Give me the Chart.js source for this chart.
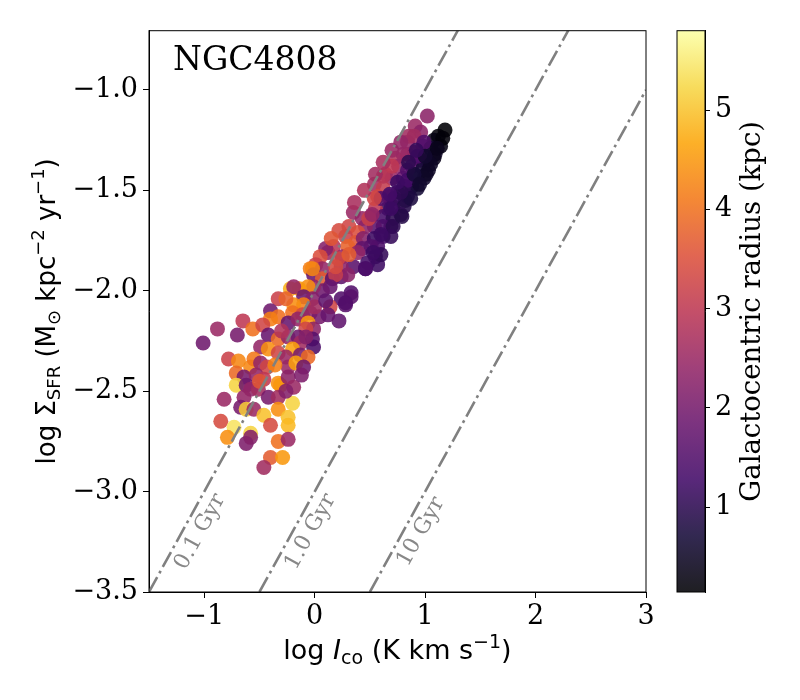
<!DOCTYPE html>
<html lang="en">
<head>
<meta charset="UTF-8">
<title>NGC4808 SFR vs CO</title>
<style>
  body { margin: 0; background: #fff; }
  #wrap { position: relative; width: 800px; height: 700px; }
  #main { position: absolute; left: 0; top: 0; }
  #cbar { position: absolute; left: 646px; top: 0; }
</style>
<script src="https://cdn.jsdelivr.net/npm/chart.js"></script>
</head>
<body>
<div id="wrap">
  <canvas id="main" width="660" height="700"></canvas>
  <canvas id="cbar" width="154" height="700"></canvas>
</div>
<script>
// log I_co (K km/s), log Sigma_SFR, galactocentric radius (kpc) per pixel
const logIco = [
  1.02, 1.18, 1.12, 1.08, 0.91, 0.96, 0.90, 0.98, 1.05, 1.09, 1.02, 0.96, 0.84, 0.73, 0.76, 0.88,
  0.98, 1.03, 0.93, 0.99, 0.64, 0.70, 0.80, 0.88, 0.93, 0.54, 0.62, 0.57, 0.67, 0.75, 0.84, 0.82,
  0.71, 0.66, 0.55, 0.51, 0.35, 0.43, 0.62, 0.71, 0.69, 0.62, 0.54, 0.46, 0.31, 0.39, 0.28, 0.37,
  0.30, 0.44, 0.54, 0.62, 0.57, 0.51, 0.43, 0.39, 0.55, 0.48, 0.57, 0.46, 0.35, 0.24, 0.12, 0.17,
  0.10, 0.25, 0.21, 0.05, 0.01, -0.04, 0.07, -0.01, 0.07, 0.16, 0.24, 0.30, 0.19, 0.33, 0.24, 0.28,
  0.14, 0.22, 0.14, 0.07, -0.01, -0.06, -0.14, -0.22, -0.19, -0.10, -0.02, -0.10, -0.19, -0.33, -0.26, -0.20,
  -0.11, -0.04, 0.04, 0.12, -0.40, -0.33, -0.40, -0.24, -0.15, -0.06, -0.01, -0.08, -0.65, -0.56, -0.47, -0.88,
  -0.70, -1.01, -0.42, -0.33, -0.24, -0.15, -0.13, -0.02, -0.01, -0.20, -0.49, -0.42, -0.33, -0.26, -0.13, -0.06,
  -0.78, -0.69, -0.71, -0.58, -0.55, -0.49, -0.43, -0.24, -0.17, -0.10, -0.64, -0.53, -0.46, -0.33, -0.31, -0.24,
  -0.19, -0.71, -0.62, -0.58, -0.51, -0.82, -0.64, -0.42, -0.33, -0.20, -0.67, -0.62, -0.55, -0.46, -0.33, -0.24,
  -0.40, -0.24, -0.85, -0.73, -0.79, -0.58, -0.62, -0.58, -0.33, -0.24, -0.40, -0.29, -0.46, 1.08, 1.05, 1.14,
  1.16, 1.01, 0.84, 0.81, 0.72, 0.81, 0.78, 0.60, 0.90, 0.84, 0.60, 0.46, 0.33, 0.28, 0.53, 0.71,
  0.69, 0.79, 0.60, 0.31, 0.19, 0.49, 0.52, -0.02, 0.54, 0.62, 0.70, 0.80, 0.85, 0.99, 0.93, 0.84,
  1.11, 0.87, 0.78, 0.69, 0.22, 0.15, 0.36, 0.45, 0.55, 0.62, 0.70, 0.78, 0.75, 0.68, 0.90, 0.95,
  0.85, 1.00, 0.92, 0.00, -0.08, -0.30, -0.50, -0.36, 0.10, -0.26, -0.12
];
const logSfr = [
  -1.13, -1.20, -1.23, -1.25, -1.18, -1.21, -1.23, -1.28, -1.29, -1.32, -1.35, -1.35, -1.32, -1.34, -1.38, -1.38,
  -1.39, -1.40, -1.43, -1.44, -1.42, -1.44, -1.44, -1.48, -1.49, -1.47, -1.49, -1.53, -1.53, -1.51, -1.53, -1.55,
  -1.58, -1.59, -1.59, -1.63, -1.61, -1.64, -1.63, -1.64, -1.68, -1.68, -1.68, -1.68, -1.68, -1.71, -1.73, -1.76,
  -1.78, -1.74, -1.74, -1.73, -1.78, -1.78, -1.79, -1.81, -1.83, -1.86, -1.87, -1.89, -1.88, -1.88, -1.81, -1.78,
  -1.79, -1.83, -1.84, -1.83, -1.87, -1.89, -1.89, -1.92, -1.94, -1.94, -1.93, -1.92, -1.92, -2.01, -2.04, -2.07,
  -2.08, -2.15, -1.98, -2.00, -1.98, -1.98, -1.99, -1.99, -1.98, -2.03, -2.04, -2.07, -2.07, -2.04, -2.04, -2.11,
  -2.12, -2.11, -2.13, -2.12, -2.10, -2.13, -2.14, -2.16, -2.14, -2.16, -2.19, -2.19, -2.15, -2.19, -2.17, -2.19,
  -2.22, -2.26, -2.22, -2.24, -2.23, -2.23, -2.26, -2.24, -2.28, -2.29, -2.28, -2.29, -2.31, -2.33, -2.32, -2.33,
  -2.34, -2.35, -2.41, -2.38, -2.34, -2.36, -2.38, -2.38, -2.36, -2.38, -2.43, -2.42, -2.44, -2.46, -2.47, -2.43,
  -2.48, -2.47, -2.47, -2.49, -2.49, -2.54, -2.53, -2.53, -2.53, -2.56, -2.58, -2.59, -2.59, -2.62, -2.59, -2.63,
  -2.67, -2.67, -2.65, -2.68, -2.73, -2.71, -2.76, -2.73, -2.75, -2.74, -2.83, -2.83, -2.88, -1.34, -1.37, -1.28,
  -1.24, -1.42, -1.40, -1.48, -1.54, -1.58, -1.62, -1.54, -1.31, -1.26, -1.82, -1.89, -2.03, -2.06, -1.81, -1.68,
  -1.73, -1.63, -1.72, -1.82, -1.88, -1.64, -1.62, -1.89, -1.54, -1.43, -1.38, -1.32, -1.23, -1.26, -1.33, -1.45,
  -1.29, -1.54, -1.51, -1.59, -1.70, -1.74, -1.56, -1.50, -1.42, -1.36, -1.30, -1.26, -1.46, -1.52, -1.42, -1.47,
  -1.36, -1.33, -1.30, -2.08, -2.23, -2.20, -2.45, -2.37, -2.05, -2.50, -2.42
];
const radius = [
  2.3, 0.15, 0.2, 0.3, 2.5, 2.3, 2.6, 1.8, 0.6, 0.5, 0.8, 1.5, 2.4, 2.8, 2.5, 1.6,
  0.7, 0.5, 0.8, 0.6, 3.0, 2.5, 1.8, 0.9, 0.7, 2.6, 3.1, 3.3, 2.3, 1.5, 0.9, 0.8,
  1.4, 1.1, 3.0, 2.6, 2.5, 2.4, 1.3, 1.0, 1.1, 1.4, 1.6, 2.3, 3.3, 3.5, 3.2, 3.6,
  3.8, 2.2, 1.2, 1.3, 1.4, 1.5, 1.7, 2.4, 1.1, 1.3, 1.2, 1.3, 1.6, 2.3, 2.5, 2.9,
  2.2, 2.4, 3.3, 3.5, 3.2, 4.2, 2.4, 1.8, 3.7, 1.6, 1.7, 2.3, 3.1, 1.5, 1.5, 1.6,
  3.3, 1.7, 1.8, 1.9, 2.4, 4.4, 4.5, 4.8, 2.4, 1.8, 2.2, 4.2, 4.4, 3.2, 3.8, 4.0,
  3.4, 2.3, 2.0, 1.8, 1.9, 4.0, 4.2, 1.8, 2.4, 4.5, 2.3, 3.3, 3.0, 4.0, 3.3, 2.5,
  2.0, 1.9, 1.8, 3.9, 2.4, 1.9, 2.6, 1.6, 1.4, 4.6, 2.4, 4.4, 3.3, 2.5, 2.0, 3.9,
  3.2, 4.3, 3.9, 4.3, 4.1, 2.4, 3.3, 2.5, 4.6, 1.9, 2.0, 2.4, 3.0, 4.4, 4.5, 2.3,
  2.5, 5.2, 1.9, 2.4, 2.6, 2.5, 2.4, 2.0, 2.6, 5.2, 2.0, 5.1, 2.5, 5.0, 4.4, 5.0,
  3.4, 4.9, 3.4, 5.4, 4.4, 5.2, 2.1, 2.2, 4.0, 2.5, 3.7, 4.5, 2.6, 0.4, 0.5, 0.3,
  0.2, 0.5, 1.5, 1.0, 1.1, 0.9, 1.0, 1.5, 2.2, 2.4, 1.1, 1.4, 1.6, 1.5, 1.2, 1.0,
  1.1, 0.9, 1.2, 3.7, 3.4, 3.2, 2.4, 4.3, 3.3, 2.9, 3.0, 2.5, 2.6, 1.5, 1.4, 1.3,
  0.4, 0.8, 1.0, 1.2, 3.4, 3.6, 2.7, 2.8, 2.6, 2.7, 2.5, 2.4, 1.2, 1.3, 0.7, 0.6,
  1.0, 0.6, 1.1, 2.6, 2.2, 2.8, 3.6, 4.2, 1.7, 2.2, 2.1
];

const xTicks = [-1, 0, 1, 2, 3];
const yTicks = [-1.0, -1.5, -2.0, -2.5, -3.0, -3.5];
const cbTicks = [1, 2, 3, 4, 5];

// constant depletion time lines
const gyrLabels = ['0.1 Gyr', '1.0 Gyr', '10 Gyr'];
const gyrX0 = [-1.5, -0.5, 0.5];
const gyrY0 = [-3.5, -3.5, -3.5];
const gyrX1 = [1.3, 2.3, 3.0];
const gyrY1 = [-0.7, -0.7, -1.0];

const rMin = 0.144, rMax = 5.80;

const infernoStops = [[0,0,4],[22,11,57],[66,10,104],[106,23,110],[147,38,103],[188,55,84],
  [221,81,58],[243,120,25],[252,165,10],[246,215,70],[252,255,164]];
function inferno(t, a) {
  t = Math.min(1, Math.max(0, t)) * 10;
  const i = Math.min(9, Math.floor(t)), f = t - i;
  const c = infernoStops[i].map((v, k) => Math.round(v + (infernoStops[i + 1][k] - v) * f));
  return `rgba(${c[0]},${c[1]},${c[2]},${a})`;
}

const minus = v => (v < 0 ? '\u2212' : '') + Math.abs(v);
const SERIF = 'DejaVu Serif';
const SANS = 'DejaVu Sans';

function drawRich(ctx, parts, x, y, angle) {
  ctx.save();
  ctx.translate(x, y);
  ctx.rotate(angle);
  ctx.textAlign = 'left';
  ctx.textBaseline = 'alphabetic';
  ctx.fillStyle = '#000';
  let w = 0;
  parts.forEach(p => { ctx.font = p.f; p.w = ctx.measureText(p.t).width; w += p.w; });
  let cx = -w / 2;
  parts.forEach(p => { ctx.font = p.f; ctx.fillText(p.t, cx, p.dy || 0); cx += p.w; });
  ctx.restore();
}

const bigY = '26px ' + SANS, smallY = '18px ' + SANS;
const yTitle = [
  { t: 'log \u03a3', f: bigY }, { t: 'SFR', f: smallY, dy: 5 },
  { t: ' (M', f: bigY }, { t: '\u2299', f: smallY, dy: 5 },
  { t: ' kpc', f: bigY }, { t: '\u22122', f: smallY, dy: -11 },
  { t: ' yr', f: bigY }, { t: '\u22121', f: smallY, dy: -11 }, { t: ')', f: bigY }
];
const bigX = '27px ' + SANS, smallX = '19px ' + SANS;
const xTitle = [
  { t: 'log ', f: bigX }, { t: 'I', f: 'italic ' + bigX }, { t: 'co', f: smallX, dy: 5 },
  { t: ' (K km s', f: bigX }, { t: '\u22121', f: smallX, dy: -11 }, { t: ')', f: bigX }
];

const mainDecor = {
  id: 'mainDecor',
  afterDraw(chart) {
    const ctx = chart.ctx, a = chart.chartArea;
    const xs = chart.scales.x, ys = chart.scales.y;
    ctx.save();
    ctx.strokeStyle = '#000';
    ctx.lineWidth = 1;
    ctx.strokeRect(a.left, a.top, a.right - a.left, a.bottom - a.top);

    ctx.fillStyle = '#000';
    ctx.font = '33px ' + SERIF;
    ctx.textAlign = 'left';
    ctx.textBaseline = 'alphabetic';
    ctx.fillText('NGC4808', 173, 70);

    // labels along the depletion lines
    ctx.fillStyle = '#888';
    ctx.font = '22px ' + SERIF;
    ctx.textAlign = 'center';
    ctx.textBaseline = 'middle';
    gyrLabels.forEach((lab, i) => {
      const ya = -3.2;
      const t = (ya - gyrY0[i]) / (gyrY1[i] - gyrY0[i]);
      const xa = gyrX0[i] + t * (gyrX1[i] - gyrX0[i]);
      const ang = Math.atan2(ys.getPixelForValue(gyrY1[i]) - ys.getPixelForValue(gyrY0[i]),
                             xs.getPixelForValue(gyrX1[i]) - xs.getPixelForValue(gyrX0[i]));
      ctx.save();
      ctx.translate(xs.getPixelForValue(xa) + 18, ys.getPixelForValue(ya));
      ctx.rotate(ang);
      ctx.fillText(lab, 0, 0);
      ctx.restore();
    });
    ctx.restore();

    drawRich(ctx, yTitle, 55, (a.top + a.bottom) / 2, -Math.PI / 2);
    drawRich(ctx, xTitle, (a.left + a.right) / 2, 659, 0);
  }
};

const axisStyle = {
  grid: { display: true, drawOnChartArea: false, drawTicks: true, tickLength: 6, color: '#000', lineWidth: 1 },
  border: { display: true, color: '#000', width: 1 }
};

const lineSets = gyrLabels.map((lab, i) => ({
  type: 'line',
  label: lab,
  data: [{ x: gyrX0[i], y: gyrY0[i] }, { x: gyrX1[i], y: gyrY1[i] }],
  borderColor: '#808080',
  borderWidth: 2.6,
  borderDash: [17, 4.4, 2.8, 4.4],
  pointRadius: 0,
  fill: false,
  order: 0
}));

new Chart(document.getElementById('main'), {
  type: 'scatter',
  data: {
    datasets: [
      ...lineSets,
      {
        label: 'pixels',
        data: logIco.map((x, i) => ({ x: x, y: logSfr[i] })),
        pointRadius: 7.5,
        pointBackgroundColor: radius.map(r => inferno((r - rMin) / (rMax - rMin), 0.88)),
        pointBorderWidth: 0,
        pointBorderColor: 'rgba(0,0,0,0)',
        order: 1
      }
    ]
  },
  options: {
    responsive: false,
    animation: false,
    layout: { padding: { top: 30.7, right: 14, left: 0, bottom: 0 } },
    plugins: { legend: { display: false }, tooltip: { enabled: false } },
    scales: {
      x: {
        type: 'linear', min: -1.5, max: 3,
        afterBuildTicks: s => { s.ticks = xTicks.map(v => ({ value: v })); },
        afterFit: s => { s.height = 108; },
        ticks: { font: { family: SERIF, size: 27 }, color: '#000', padding: 3, maxRotation: 0, autoSkip: false,
                 callback: v => minus(v) },
        ...axisStyle
      },
      y: {
        type: 'linear', min: -3.5, max: -0.705,
        afterBuildTicks: s => { s.ticks = yTicks.map(v => ({ value: v })); },
        afterFit: s => { s.width = 149; },
        ticks: { font: { family: SERIF, size: 27 }, color: '#000', padding: 5, autoSkip: false,
                 callback: v => (v < 0 ? '\u2212' : '') + Math.abs(v).toFixed(1) },
        ...axisStyle
      }
    }
  },
  plugins: [mainDecor]
});

// colour bar
const cbDecor = {
  id: 'cbDecor',
  beforeDatasetsDraw(chart) {
    const ctx = chart.ctx, a = chart.chartArea;
    const g = ctx.createLinearGradient(0, a.bottom, 0, a.top);
    infernoStops.forEach((c, i) => g.addColorStop(i / 10, inferno(i / 10, 0.88)));
    ctx.save();
    ctx.fillStyle = g;
    ctx.fillRect(a.left, a.top, a.right - a.left, a.bottom - a.top);
    ctx.restore();
  },
  afterDraw(chart) {
    const ctx = chart.ctx, a = chart.chartArea;
    ctx.save();
    ctx.strokeStyle = '#000';
    ctx.lineWidth = 1;
    ctx.strokeRect(a.left, a.top, a.right - a.left, a.bottom - a.top);
    ctx.translate(114, (a.top + a.bottom) / 2);
    ctx.rotate(-Math.PI / 2);
    ctx.fillStyle = '#000';
    ctx.font = '27.5px ' + SERIF;
    ctx.textAlign = 'center';
    ctx.textBaseline = 'alphabetic';
    ctx.fillText('Galactocentric radius (kpc)', 0, 0);
    ctx.restore();
  }
};

new Chart(document.getElementById('cbar'), {
  type: 'scatter',
  data: { datasets: [] },
  options: {
    responsive: false,
    animation: false,
    layout: { padding: { left: 31, top: 30.7, bottom: 108, right: 0 } },
    plugins: { legend: { display: false }, tooltip: { enabled: false } },
    scales: {
      x: { display: false, min: 0, max: 1 },
      y: {
        position: 'right', min: rMin, max: rMax,
        afterBuildTicks: s => { s.ticks = cbTicks.map(v => ({ value: v })); },
        afterFit: s => { s.width = 95; },
        ticks: { font: { family: SERIF, size: 27 }, color: '#000', padding: 5, autoSkip: false },
        grid: { display: true, drawOnChartArea: false, drawTicks: true, tickLength: 5, color: '#000', lineWidth: 1 },
        border: { display: true, color: '#000', width: 1 }
      }
    }
  },
  plugins: [cbDecor]
});
</script>
</body>
</html>
